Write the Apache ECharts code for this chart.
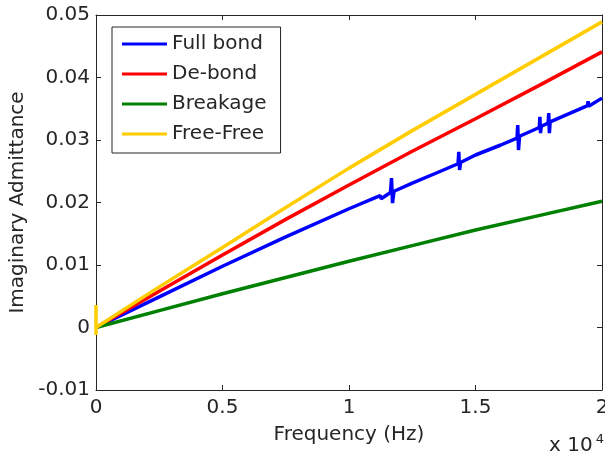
<!DOCTYPE html>
<html>
<head>
<meta charset="utf-8">
<script src="https://cdn.jsdelivr.net/npm/echarts@6/dist/echarts.min.js"></script>
<style>html,body{margin:0;padding:0;background:#fff}#c{width:605px;height:458px}</style>
</head>
<body>
<div id="c"></div>
<script>
var seriesNames = ['Full bond', 'De-bond', 'Breakage', 'Free-Free'];
var xTicks = [0, 5000, 10000, 15000, 20000];
var yTicks = [-0.01, 0, 0.01, 0.02, 0.03, 0.04, 0.05];

var blueFreq = [0, 2500, 5000, 7500, 10000, 11230, 11250, 11270, 11640, 11680, 11720, 11780, 12500, 13500, 14310, 14340, 14370, 14410, 15000, 16000, 16640, 16670, 16700, 16740, 17520, 17545, 17570, 17600, 17870, 17895, 17920, 17950, 19430, 19450, 19470, 20000];
var blueVal  = [0, 0.0049, 0.0098, 0.0145, 0.0190, 0.0211, 0.0214, 0.0206, 0.0216, 0.0239, 0.0199, 0.0218, 0.0231, 0.0248, 0.0262, 0.0281, 0.0252, 0.0264, 0.0276, 0.0292, 0.0303, 0.0324, 0.0284, 0.0306, 0.0320, 0.0337, 0.0311, 0.0322, 0.0327, 0.0343, 0.0311, 0.0329, 0.0355, 0.0362, 0.0354, 0.0367];

var mainFreq = [0, 2500, 5000, 7500, 10000, 12500, 15000, 17500, 20000];
var redVal   = [0, 0.0058, 0.0116, 0.0173, 0.0228, 0.0282, 0.0334, 0.0387, 0.0441];
var greenVal = [0, 0.0027, 0.0054, 0.0080, 0.0106, 0.0131, 0.0156, 0.0179, 0.0202];

var yellowFreq = [0, 0, 0, 2500, 5000, 7500, 10000, 12500, 15000, 17500, 20000];
var yellowVal  = [0.0036, -0.0012, 0, 0.0065, 0.0128, 0.0192, 0.0255, 0.0315, 0.0373, 0.0431, 0.0489];

var colors = ['#0000ff', '#ff0000', '#008000', '#ffcc00'];

function pairs(xs, ys) { return xs.map(function (x, i) { return [x, ys[i]]; }); }

var FONT = 'DejaVu Sans';
var TXT = '#262626';
var chart = echarts.init(document.getElementById('c'), null, {renderer: 'canvas'});

var aLine = {show: true, onZero: false, lineStyle: {color: '#262626', width: 1}};
var aTick = {show: true, inside: true, length: 5, lineStyle: {color: '#262626'}};
chart.setOption({
  animation: false,
  backgroundColor: '#ffffff',
  grid: {left: 96, right: 3, top: 15, bottom: 68, containLabel: false, outerBoundsMode: 'none'},
  legend: {
    data: seriesNames,
    orient: 'vertical',
    left: 112, top: 27,
    icon: 'rect',
    itemWidth: 45, itemHeight: 3,
    itemGap: 10,
    padding: [7, 14, 9, 10],
    borderColor: '#262626', borderWidth: 1,
    backgroundColor: '#ffffff',
    textStyle: {fontFamily: FONT, fontSize: 20, color: TXT, lineHeight: 20}
  },
  xAxis: [{
    type: 'value', min: xTicks[0], max: xTicks[xTicks.length - 1], interval: 5000,
    position: 'bottom',
    name: 'Frequency (Hz)', nameLocation: 'middle', nameGap: 35,
    nameTextStyle: {fontFamily: FONT, fontSize: 20, color: TXT},
    axisLine: aLine, axisTick: aTick,
    axisLabel: {fontFamily: FONT, fontSize: 20, color: TXT, margin: 8,
      formatter: function (v) { return String(+(v / 1e4).toFixed(2)); }},
    splitLine: {show: false}
  }, {
    type: 'value', min: xTicks[0], max: xTicks[xTicks.length - 1], interval: 5000,
    position: 'top',
    axisLine: aLine, axisTick: aTick,
    axisLabel: {show: false},
    splitLine: {show: false}
  }],
  yAxis: [{
    type: 'value', min: yTicks[0], max: yTicks[yTicks.length - 1], interval: 0.01,
    position: 'left',
    name: 'Imaginary Admittance', nameLocation: 'middle', nameGap: 67,
    nameTextStyle: {fontFamily: FONT, fontSize: 20, color: TXT},
    axisLine: aLine, axisTick: aTick,
    axisLabel: {fontFamily: FONT, fontSize: 20, color: TXT, margin: 6,
      formatter: function (v) { var r = Math.round(v * 100) / 100; return r === 0 ? '0' : r.toFixed(2); }},
    splitLine: {show: false}
  }, {
    type: 'value', min: yTicks[0], max: yTicks[yTicks.length - 1], interval: 0.01,
    position: 'right',
    axisLine: aLine, axisTick: aTick,
    axisLabel: {show: false},
    splitLine: {show: false}
  }],
  graphic: [{
    type: 'text', left: 549, top: 433,
    style: {
      text: '{a|x 10}{b|4}',
      rich: {
        a: {fontFamily: FONT, fontSize: 20, fill: TXT, verticalAlign: 'bottom', lineHeight: 22},
        b: {fontFamily: FONT, fontSize: 13, fill: TXT, verticalAlign: 'top', padding: [0, 0, 10, 3]}
      }
    }
  }],
  series: [
    {name: seriesNames[0], type: 'line', data: pairs(blueFreq, blueVal), showSymbol: false, symbol: 'none',
      lineStyle: {color: colors[0], width: 3.5}, itemStyle: {color: colors[0]}},
    {name: seriesNames[1], type: 'line', data: pairs(mainFreq, redVal), showSymbol: false, symbol: 'none',
      lineStyle: {color: colors[1], width: 3.5}, itemStyle: {color: colors[1]}},
    {name: seriesNames[2], type: 'line', data: pairs(mainFreq, greenVal), showSymbol: false, symbol: 'none',
      lineStyle: {color: colors[2], width: 3.5}, itemStyle: {color: colors[2]}},
    {name: seriesNames[3], type: 'line', data: pairs(yellowFreq, yellowVal), showSymbol: false, symbol: 'none',
      lineStyle: {color: colors[3], width: 3.5}, itemStyle: {color: colors[3]}}
  ]
});
</script>
</body>
</html>
